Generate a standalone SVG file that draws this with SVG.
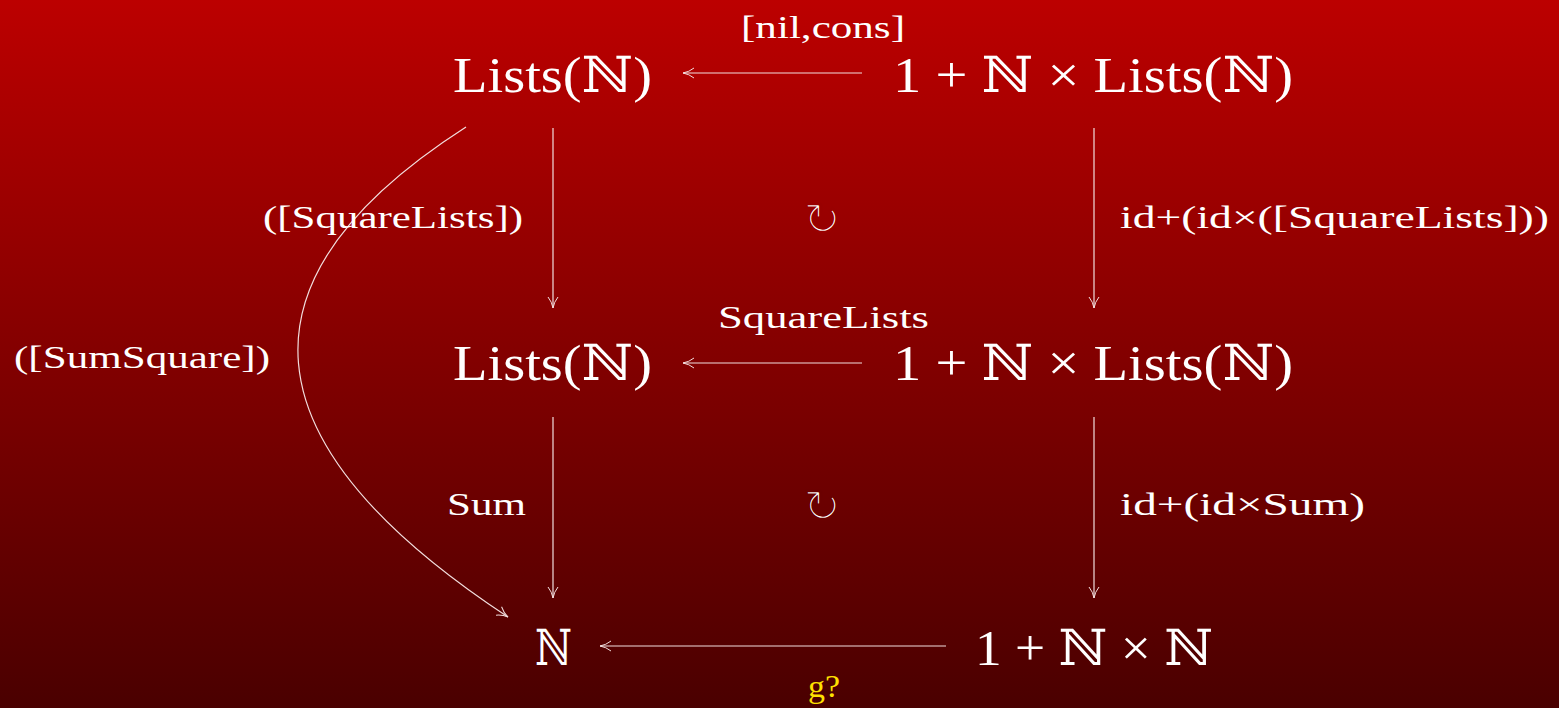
<svg xmlns="http://www.w3.org/2000/svg" width="1559" height="708" viewBox="0 0 1559 708">
<defs>
<linearGradient id="bg" x1="0" y1="0" x2="0" y2="1">
<stop offset="0" stop-color="#bc0000"/>
<stop offset="1" stop-color="#4a0000"/>
</linearGradient>
<marker id="ah" markerWidth="14" markerHeight="12" refX="12" refY="6" orient="auto" markerUnits="userSpaceOnUse">
<path d="M1,1 Q6,5 12,6 Q6,7 1,11" fill="none" stroke="#f2dede" stroke-width="1"/>
</marker>
<style>
.n{font-family:"Liberation Serif","DejaVu Serif",serif;font-size:50px;fill:#ffffff}
.l{font-family:"Liberation Serif","DejaVu Serif",serif;font-size:32px;fill:#ffffff}
.y{font-family:"Liberation Serif","DejaVu Serif",serif;font-size:32px;fill:#ffe000}
.c{font-family:"DejaVu Sans",sans-serif;font-size:46px;fill:#ffffff;stroke-width:2.6}
.e{fill:none;stroke:#f2dede;stroke-width:1.2;marker-end:url(#ah)}
</style>
</defs>
<rect x="0" y="0" width="1559" height="708" fill="url(#bg)"/>
<g id="connectors">
<line class="e" x1="862" y1="73" x2="683" y2="73"/>
<line class="e" x1="862" y1="363" x2="683" y2="363"/>
<line class="e" x1="946" y1="646" x2="600" y2="646"/>
<line class="e" x1="553" y1="128" x2="553" y2="308"/>
<line class="e" x1="1094" y1="128" x2="1094" y2="308"/>
<line class="e" x1="553" y1="417" x2="553" y2="598"/>
<line class="e" x1="1094" y1="417" x2="1094" y2="598"/>
<path class="e" d="M466,127 Q110,355 508,617"/>
</g>
<g id="node-lists-top"><text class="n" x="453" y="92" textLength="199" lengthAdjust="spacingAndGlyphs">Lists(ℕ)</text></g>
<g id="node-f-top"><text class="n" x="893" y="92" textLength="400" lengthAdjust="spacingAndGlyphs">1 + ℕ × Lists(ℕ)</text></g>
<g id="node-lists-mid"><text class="n" x="453" y="380" textLength="199" lengthAdjust="spacingAndGlyphs">Lists(ℕ)</text></g>
<g id="node-f-mid"><text class="n" x="893" y="380" textLength="400" lengthAdjust="spacingAndGlyphs">1 + ℕ × Lists(ℕ)</text></g>
<g id="node-n"><text class="n" x="535" y="665" textLength="37" lengthAdjust="spacingAndGlyphs">ℕ</text></g>
<g id="node-f-bot"><text class="n" x="975" y="665" textLength="238" lengthAdjust="spacingAndGlyphs">1 + ℕ × ℕ</text></g>
<g id="labels">
<text class="l" x="741" y="38" textLength="164" lengthAdjust="spacingAndGlyphs">[nil,cons]</text>
<text class="l" x="263" y="228" textLength="260" lengthAdjust="spacingAndGlyphs">([SquareLists])</text>
<text class="l" x="1120" y="228" textLength="429" lengthAdjust="spacingAndGlyphs">id+(id×([SquareLists]))</text>
<text class="l" x="718" y="328" textLength="211" lengthAdjust="spacingAndGlyphs">SquareLists</text>
<text class="l" x="14" y="368" textLength="256" lengthAdjust="spacingAndGlyphs">([SumSquare])</text>
<text class="l" x="447" y="515" textLength="79" lengthAdjust="spacingAndGlyphs">Sum</text>
<text class="l" x="1120" y="515" textLength="245" lengthAdjust="spacingAndGlyphs">id+(id×Sum)</text>
<text class="y" x="808" y="697" textLength="32" lengthAdjust="spacingAndGlyphs">g?</text>
<text class="c" x="822" y="235" text-anchor="middle" stroke="#990000">↻</text>
<text class="c" x="822" y="522" text-anchor="middle" stroke="#6b0000">↻</text>
</g>
</svg>
